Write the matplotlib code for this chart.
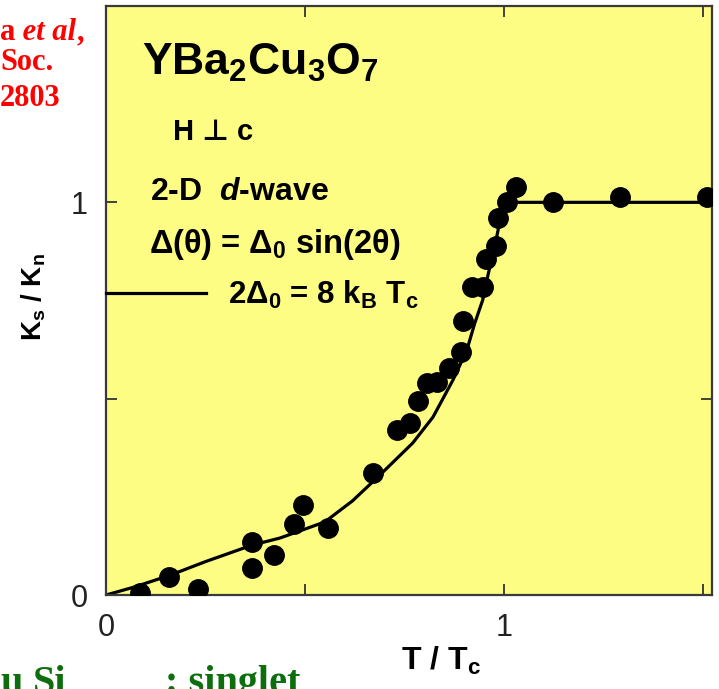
import matplotlib
matplotlib.use("Agg")
import matplotlib.pyplot as plt

# Knight-shift ratio Ks/Kn vs reduced temperature, YBa2Cu3O7 (H perpendicular to c)
t_data = [0.085, 0.158, 0.231, 0.367, 0.367, 0.422, 0.472, 0.495, 0.558,
          0.671, 0.731, 0.764, 0.784, 0.807, 0.832, 0.862, 0.892, 0.897,
          0.920, 0.947, 0.955, 0.980, 0.985, 1.008, 1.030, 1.123, 1.291, 1.510]
k_data = [0.005, 0.046, 0.015, 0.069, 0.135, 0.102, 0.181, 0.229, 0.170,
          0.310, 0.420, 0.438, 0.494, 0.539, 0.542, 0.578, 0.618, 0.697,
          0.784, 0.784, 0.855, 0.888, 0.959, 1.000, 1.038, 1.000, 1.013, 1.013]

# 2-D d-wave calculation, 2*Delta0 = 8 kB Tc
t_fit = [0.0, 0.07, 0.16, 0.25, 0.367, 0.437, 0.55, 0.62, 0.688, 0.771,
         0.822, 0.872, 0.907, 0.927, 0.947, 0.957, 0.982, 1.0, 1.52]
k_fit = [0.0, 0.02, 0.05, 0.085, 0.127, 0.145, 0.186, 0.24, 0.305, 0.387,
         0.453, 0.547, 0.623, 0.692, 0.751, 0.80, 0.911, 1.0, 1.0]

x_ticks = [0, 0.5, 1, 1.5]
x_ticklabels = ["0", "", "1", ""]
y_ticks = [0, 0.5, 1, 1.5]
y_ticklabels = ["0", "", "1", ""]

plt.rcParams["mathtext.fontset"] = "custom"
plt.rcParams["mathtext.rm"] = "Liberation Sans:bold"
plt.rcParams["mathtext.bf"] = "Liberation Sans:bold"
plt.rcParams["mathtext.it"] = "Liberation Sans:italic:bold"
plt.rcParams["mathtext.default"] = "rm"

SANS = ["Liberation Sans", "DejaVu Sans"]
SERIF = ["Liberation Serif", "DejaVu Serif"]

fig = plt.figure(figsize=(7.19, 6.89), dpi=100)
fig.patch.set_facecolor("white")
ax = fig.add_axes([0.1474, 0.1364, 0.8426, 0.8549])
ax.set_facecolor("#fdfd84")

ax.plot(t_fit, k_fit, color="black", lw=2.3, zorder=2,
        label="2Δ$_0$ = 8 k$_B$ T$_c$")
ax.plot(t_data, k_data, "o", color="black", ms=14, zorder=3)

ax.set_xlim(0, 1.523)
ax.set_ylim(0, 1.5)
ax.set_xticks(x_ticks)
ax.set_xticklabels(x_ticklabels)
ax.set_yticks(y_ticks)
ax.set_yticklabels(y_ticklabels)
ax.tick_params(direction="in", length=8, width=1.3, color="#333333",
               top=True, right=True, labelsize=22, pad=13,
               labelcolor="#222222")
for lab in ax.get_xticklabels() + ax.get_yticklabels():
    lab.set_family(SANS)
for sp in ax.spines.values():
    sp.set_color("#3a3a3a")
    sp.set_linewidth(1.6)

ax.set_xlabel("T / T$_c$", fontsize=23, fontweight="bold", family=SANS)
ax.xaxis.set_label_coords(0.553, -0.127)
ax.xaxis.label.set_va("baseline")
ax.set_ylabel("K$_s$ / K$_n$", fontsize=20, fontweight="bold", family=SANS)
ax.yaxis.set_label_coords(-0.12, 0.506)
ax.yaxis.label.set_va("center")

# annotation block inside the panel
ax.text(0.0594, 0.883, "YBa$_2$Cu$_3$O$_7$", transform=ax.transAxes,
        fontsize=32, fontweight="bold", family=SANS, va="baseline")
ax.text(0.1106, 0.7725, "H ⊥ c", transform=ax.transAxes,
        fontsize=21, fontweight="bold", family=SANS, va="baseline")
ax.text(0.0726, 0.6706, "2-D  $\\mathit{d}$-wave", transform=ax.transAxes,
        fontsize=23, fontweight="bold", family=SANS, va="baseline")
ax.text(0.071, 0.5806, "Δ(θ) = Δ$_0$ sin(2θ)", transform=ax.transAxes,
        fontsize=23.5, fontweight="bold", family=SANS, va="baseline")

leg = ax.legend(loc="center left", bbox_to_anchor=(0.0, 0.51),
                frameon=False, handlelength=3.2, handletextpad=0.7,
                borderpad=0, borderaxespad=0,
                prop={"family": "Liberation Sans", "weight": "bold", "size": 22.5})

# citation (red) at upper left
red = "#ff0000"
y_cite = [(689 - 40) / 689, (689 - 70) / 689, (689 - 106) / 689]
t1 = fig.text(0.0, y_cite[0], "a", color=red, fontsize=22, fontweight="bold",
              family=SERIF, va="baseline", ha="left")
t2 = ax.annotate(" et al", xy=(1, 0), xycoords=t1, va="bottom", ha="left",
                 color=red, fontsize=22, fontweight="bold", style="italic",
                 family=SERIF, annotation_clip=False)
ax.annotate(",", xy=(1, 0), xycoords=t2, va="bottom", ha="left",
            color=red, fontsize=22, fontweight="bold", family=SERIF,
            annotation_clip=False)
fig.text(0.0, y_cite[1], "Soc.", color=red, fontsize=22, fontweight="bold",
         family=SERIF, va="baseline", ha="left")
fig.text(0.0, y_cite[2], "2803", color=red, fontsize=22, fontweight="bold",
         family=SERIF, va="baseline", ha="left")

# green caption along the bottom edge
green = "#0c6e0c"
yb = (689 - 693) / 689
fig.text(0.0, yb, "u", color=green, fontsize=29, fontweight="bold",
         family=SERIF, va="baseline", ha="left")
fig.text(33 / 719, yb, "Si", color=green, fontsize=29, fontweight="bold",
         family=SERIF, va="baseline", ha="left")
fig.text(165 / 719, yb, ": singlet", color=green, fontsize=29,
         fontweight="bold", family=SERIF, va="baseline", ha="left")

fig.savefig("out.png", dpi=100)
